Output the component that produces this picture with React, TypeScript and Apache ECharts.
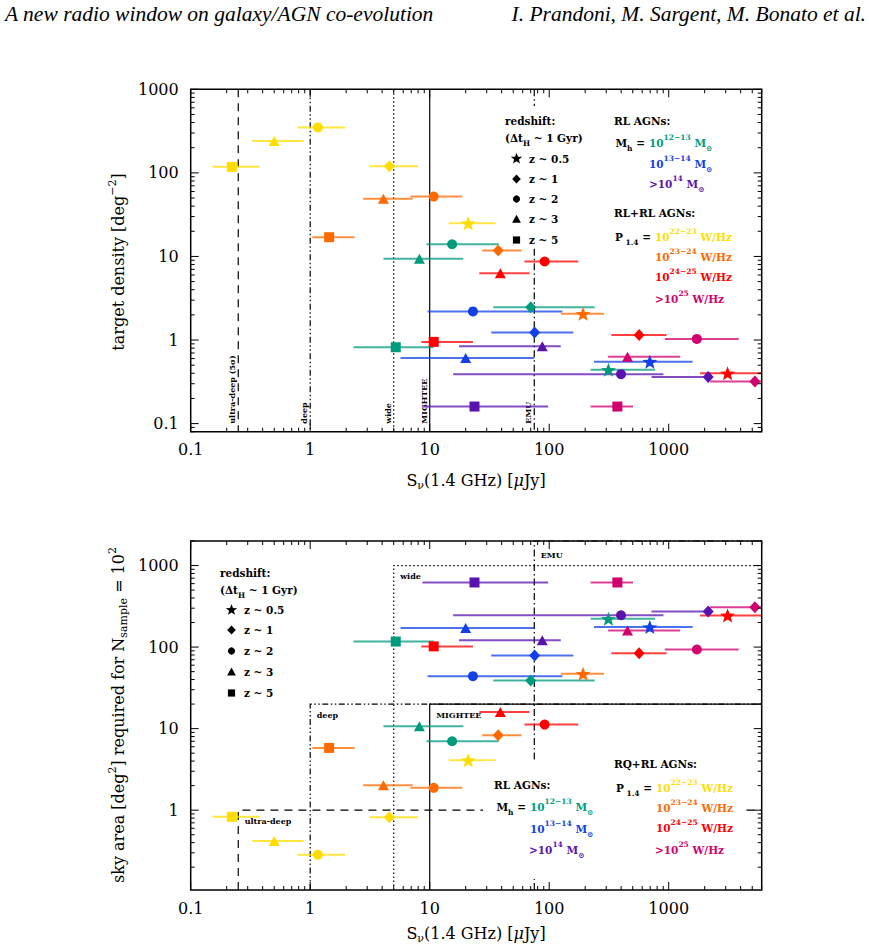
import React, { useEffect, useRef } from "react";
import * as echarts from "echarts";

// ---------------- data ----------------
const populations = [
  "RL AGNs, Mh = 10^12-13 Msun",
  "RL AGNs, Mh = 10^13-14 Msun",
  "RL AGNs, Mh > 10^14 Msun",
  "P1.4 = 10^22-23 W/Hz",
  "P1.4 = 10^23-24 W/Hz",
  "P1.4 = 10^24-25 W/Hz",
  "P1.4 > 10^25 W/Hz",
];
const populationColors = ["#009B7D", "#1240E4", "#5A12AE", "#FFDD00", "#FF6A00", "#FF0000", "#D2006E"];
const redshiftBins = ["z ~ 0.5", "z ~ 1", "z ~ 2", "z ~ 3", "z ~ 5"];

// rows = populations, columns = redshift bins (null = not shown)
const flux = [
  [313, 70, 15.4, 8.2, 5.2],
  [695, 75.5, 23, 20, null],
  [null, 2140, 399, 87.5, 23.7],
  [21, 4.6, 1.16, 0.5, 0.221],
  [192, 37.4, 10.8, 4.1, 1.44],
  [3110, 565, 91.6, 39, 10.8],
  [null, 5260, 1720, 452, 372],
];
const fluxLow = [
  [222, 34, 9.4, 4.1, 2.3],
  [237, 32.7, 9.6, 5.7, null],
  [null, 718, 15.7, 17.6, 8.7],
  [14.4, 3.12, 0.78, 0.328, 0.152],
  [125, 27.5, 6.9, 2.77, 1.04],
  [1830, 331, 62, 26, 8.5],
  [null, 2220, 927, 311, 222],
];
const fluxHigh = [
  [769, 240, 37.8, 19.1, 10.8],
  [1585, 159, 129, 75, null],
  [null, 2290, 903, 125, 98],
  [35.6, 8.0, 1.96, 0.88, 0.376],
  [288, 58.7, 18.7, 7.2, 2.35],
  [7000, 960, 175, 68.5, 23],
  [null, 9000, 3845, 1247, 503],
];
const targetDensity = [
  [0.44, 2.47, 14, 9.4, 0.82],
  [0.55, 1.23, 2.2, 0.61, null],
  [null, 0.36, 0.39, 0.84, 0.16],
  [25, 120, 350, 240, 118],
  [2.06, 11.8, 52, 49, 17],
  [0.4, 1.15, 8.7, 6.3, 0.95],
  [null, 0.32, 1.03, 0.63, 0.16],
];
const skyArea = [
  [222, 39, 7.0, 10.7, 117],
  [176, 79, 44, 171, null],
  [null, 273, 246, 121, 620],
  [4.1, 0.82, 0.284, 0.42, 0.83],
  [47, 8.3, 1.88, 2.02, 5.8],
  [244, 84, 11.2, 16, 102],
  [null, 309, 93.5, 160, 620],
];

const surveyNames = ["ultra-deep (5σ)", "deep", "wide", "MIGHTEE", "EMU"];
const surveyBoxNames = ["ultra-deep", "deep", "wide", "MIGHTEE", "EMU"];
const surveyFluxLimits = [0.25, 1, 5, 10, 75];
const surveySkyAreas = [1, 20, 1000, 20, 30000];

const xTickValues = [0.1, 1, 10, 100, 1000];
const xTickLabels = ["0.1", "1", "10", "100", "1000"];
const yTickValuesTop = [0.1, 1, 10, 100, 1000];
const yTickLabelsTop = ["0.1", "1", "10", "100", "1000"];
const yTickValuesBottom = [1, 10, 100, 1000];
const yTickLabelsBottom = ["1", "10", "100", "1000"];

const X_RANGE = [0.1, 6000];
const Y_RANGE_TOP = [0.08, 1000];
const Y_RANGE_BOTTOM = [0.105, 2000];

// ---------------- styles ----------------
const SERIF = '"DejaVu Serif", "Liberation Serif", serif';
const surveyDash: any[] = [[8, 6], [6, 2.5, 1.5, 2.5, 1.5, 2.5], [1.5, 2.5], null, [7, 3, 1.5, 3]];
const STAR =
  "path://M0,-10L2.469,-3.398L9.511,-3.09L3.994,1.298L5.878,8.09L0,4.2L-5.878,8.09L-3.994,1.298L-9.511,-3.09L-2.469,-3.398Z";
const markerSymbols = [STAR, "diamond", "circle", "triangle", "rect"];
const markerSizes: any[] = [[15, 14], [11, 12], 10, [11, 10], 10];

function tickFormatter(values: number[], labels: string[]) {
  return (v: number) => {
    const i = values.findIndex((t) => Math.abs(Math.log10(v) - Math.log10(t)) < 0.005);
    return i >= 0 ? labels[i] : "";
  };
}

function frameSeries(gi: number, yRange: number[]) {
  return {
    type: "custom",
    name: "frame",
    xAxisIndex: gi,
    yAxisIndex: gi,
    silent: true,
    z: 4,
    data: [[1, 1]],
    renderItem: (params: any, api: any) => {
      const cs = params.coordSys;
      const L = cs.x, T = cs.y, R = cs.x + cs.width, B = cs.y + cs.height;
      const children: any[] = [];
      const ln = (x1: number, y1: number, x2: number, y2: number) => ({
        type: "line",
        shape: { x1, y1, x2, y2 },
        style: { stroke: "#000", lineWidth: 1 },
      });
      for (let k = -2; k <= 4; k++) {
        for (let m = 1; m <= 9; m++) {
          const v = m * Math.pow(10, k);
          const len = m === 1 ? 8 : 4;
          if (v >= X_RANGE[0] * 0.9999 && v <= X_RANGE[1] * 1.0001) {
            const x = api.coord([v, 1])[0];
            children.push(ln(x, B, x, B - len), ln(x, T, x, T + len));
          }
          if (v >= yRange[0] * 0.9999 && v <= yRange[1] * 1.0001) {
            const y = api.coord([1, v])[1];
            children.push(ln(L, y, L + len, y), ln(R, y, R - len, y));
          }
        }
      }
      children.push({
        type: "rect",
        shape: { x: L, y: T, width: cs.width, height: cs.height },
        style: { fill: "none", stroke: "#000", lineWidth: 1.5 },
      });
      return { type: "group", children };
    },
  };
}

function surveyLinesTop() {
  return {
    type: "custom",
    name: "survey flux limits",
    xAxisIndex: 0,
    yAxisIndex: 0,
    silent: true,
    z: 1,
    data: surveyFluxLimits.map((f, i) => [f, 1, i]),
    renderItem: (params: any, api: any) => {
      const cs = params.coordSys;
      const i = api.value(2);
      const x = api.coord([api.value(0), 1])[0];
      const T = cs.y, B = cs.y + cs.height;
      const style: any = { stroke: "#000", lineWidth: 1.2 };
      if (surveyDash[i]) style.lineDash = surveyDash[i];
      return {
        type: "group",
        children: [
          { type: "line", shape: { x1: x, y1: T, x2: x, y2: B }, style },
          {
            type: "text",
            x: x - 6,
            y: B - 8,
            rotation: Math.PI / 2,
            style: {
              text: surveyNames[i],
              fill: "#000",
              fontFamily: SERIF,
              fontSize: 8,
              fontWeight: "bold",
              align: "left",
              verticalAlign: "middle",
            },
          },
        ],
      };
    },
  };
}

function surveyBoxesBottom() {
  return {
    type: "custom",
    name: "survey boxes",
    xAxisIndex: 1,
    yAxisIndex: 1,
    silent: true,
    z: 1,
    data: surveyFluxLimits.map((f, i) => [f, surveySkyAreas[i], i]),
    renderItem: (params: any, api: any) => {
      const cs = params.coordSys;
      const i = api.value(2);
      const x = api.coord([api.value(0), 1])[0];
      const yRaw = api.coord([1, api.value(1)])[1];
      const clipped = yRaw < cs.y;
      const yc = Math.max(yRaw, cs.y);
      const R = cs.x + cs.width, B = cs.y + cs.height;
      const style: any = { stroke: "#000", lineWidth: 1.2, fill: "none" };
      if (surveyDash[i]) style.lineDash = surveyDash[i];
      return {
        type: "group",
        children: [
          { type: "polyline", shape: { points: [[x, B], [x, yc], [R, yc]] }, style },
          {
            type: "text",
            x: x + 6.5,
            y: yc + (clipped ? 14 : 10.5),
            style: {
              text: surveyBoxNames[i],
              fill: "#000",
              fontFamily: SERIF,
              fontSize: 8,
              fontWeight: "bold",
              align: "left",
              verticalAlign: "middle",
            },
          },
        ],
      };
    },
  };
}

function errorBars(gi: number, yValues: (number | null)[][]) {
  const data: number[][] = [];
  populations.forEach((_, p) =>
    flux[p].forEach((f, z) => {
      if (f != null) data.push([f, yValues[p][z] as number, fluxLow[p][z] as number, fluxHigh[p][z] as number, p]);
    })
  );
  return {
    type: "custom",
    name: "flux ranges",
    xAxisIndex: gi,
    yAxisIndex: gi,
    silent: true,
    z: 2,
    data,
    renderItem: (params: any, api: any) => {
      const cs = params.coordSys;
      const y = api.value(1);
      const a = api.coord([api.value(2), y]);
      const b = api.coord([api.value(3), y]);
      const x1 = Math.max(a[0], cs.x);
      const x2 = Math.min(b[0], cs.x + cs.width);
      return {
        type: "line",
        shape: { x1, y1: a[1], x2, y2: a[1] },
        style: { stroke: populationColors[api.value(4)], lineWidth: 2, opacity: 0.75 },
      };
    },
  };
}

function markerSeries(gi: number, yValues: (number | null)[][]) {
  return populations.map((name, p) => ({
    type: "scatter",
    name,
    xAxisIndex: gi,
    yAxisIndex: gi,
    z: 3,
    itemStyle: { color: populationColors[p], opacity: 1 },
    data: flux[p]
      .map((f, z) =>
        f == null
          ? null
          : { name: redshiftBins[z], value: [f, yValues[p][z]], symbol: markerSymbols[z], symbolSize: markerSizes[z] }
      )
      .filter((d) => d !== null),
  }));
}

// ---------------- legends / annotations ----------------
const legendRich: any = {
  b: { fontFamily: SERIF, fontWeight: "bold", fontSize: 10.5, lineHeight: 19 },
  sup: { fontFamily: SERIF, fontWeight: "bold", fontSize: 7.5, lineHeight: 8.5, verticalAlign: "top" },
  sub: { fontFamily: SERIF, fontWeight: "bold", fontSize: 7.5, lineHeight: 8.5, verticalAlign: "bottom" },
};
const axisRich: any = {
  n: { fontFamily: SERIF, fontSize: 16, lineHeight: 22 },
  it: { fontFamily: SERIF, fontSize: 16, lineHeight: 22, fontStyle: "italic" },
  sup: { fontFamily: SERIF, fontSize: 11, lineHeight: 11, verticalAlign: "top" },
  sub: { fontFamily: SERIF, fontSize: 11, lineHeight: 11, verticalAlign: "bottom" },
};

function lt(x: number, y: number, text: string, fill = "#000", align = "left") {
  return {
    type: "text",
    x,
    y,
    z: 101,
    silent: true,
    style: {
      text,
      fill,
      rich: legendRich,
      fontFamily: SERIF,
      fontSize: 10.5,
      fontWeight: "bold",
      align,
      verticalAlign: "middle",
    },
  };
}

function starPoints(cx: number, cy: number, R: number, r: number) {
  const pts: number[][] = [];
  for (let k = 0; k < 10; k++) {
    const ang = -Math.PI / 2 + (k * Math.PI) / 5;
    const rad = k % 2 === 0 ? R : r;
    pts.push([cx + rad * Math.cos(ang), cy + rad * Math.sin(ang)]);
  }
  return pts;
}

function glyph(z: number, cx: number, cy: number) {
  const base = { z: 101, silent: true, style: { fill: "#000" } };
  if (z === 0) return { ...base, type: "polygon", shape: { points: starPoints(cx, cy, 6, 2.5) } };
  if (z === 1)
    return { ...base, type: "polygon", shape: { points: [[cx, cy - 4.6], [cx + 4.3, cy], [cx, cy + 4.6], [cx - 4.3, cy]] } };
  if (z === 2) return { ...base, type: "circle", shape: { cx, cy, r: 3.6 } };
  if (z === 3)
    return { ...base, type: "polygon", shape: { points: [[cx, cy - 4.6], [cx + 4.4, cy + 3.4], [cx - 4.4, cy + 3.4]] } };
  return { ...base, type: "rect", shape: { x: cx - 3.6, y: cy - 3.6, width: 7.2, height: 7.2 } };
}

function redshiftLegend(x: number, y0: number, rowYs: number[]) {
  const els: any[] = [lt(x, y0, "{b|redshift:}"), lt(x, y0 + 17, "{b|(Δt}{sub|H}{b| ~ 1 Gyr)}")];
  redshiftBins.forEach((label, z) => {
    els.push(glyph(z, x + 11.5, rowYs[z]));
    els.push(lt(x + 24, rowYs[z], `{b|${label}}`));
  });
  return els;
}

const massLabels = [
  "{b|10}{sup|12−13}{b| M}{sub|⊙}",
  "{b|10}{sup|13−14}{b| M}{sub|⊙}",
  "{b|>10}{sup|14}{b| M}{sub|⊙}",
];
const powerLabels = [
  "{b|10}{sup|22−23}{b| W/Hz}",
  "{b|10}{sup|23−24}{b| W/Hz}",
  "{b|10}{sup|24−25}{b| W/Hz}",
  "{b|>10}{sup|25}{b| W/Hz}",
];

function buildOption() {
  const grids = [
    { left: 190.7, top: 89.3, width: 571, height: 342.4 },
    { left: 190.7, top: 541, width: 571, height: 349 },
  ];
  const labelStyle = { color: "#000", fontFamily: SERIF, fontSize: 16, showMinLabel: true, showMaxLabel: true };
  const xAxis = [0, 1].map((gi) => ({
    type: "log",
    logBase: 10,
    gridIndex: gi,
    min: X_RANGE[0],
    max: X_RANGE[1],
    axisLine: { show: false },
    axisTick: { show: false },
    splitLine: { show: false },
    axisLabel: { ...labelStyle, margin: 10, formatter: tickFormatter(xTickValues, xTickLabels) },
  }));
  const yAxis = [
    {
      type: "log",
      logBase: 10,
      gridIndex: 0,
      min: Y_RANGE_TOP[0],
      max: Y_RANGE_TOP[1],
      axisLine: { show: false },
      axisTick: { show: false },
      splitLine: { show: false },
      axisLabel: { ...labelStyle, margin: 12, formatter: tickFormatter(yTickValuesTop, yTickLabelsTop) },
    },
    {
      type: "log",
      logBase: 10,
      gridIndex: 1,
      min: Y_RANGE_BOTTOM[0],
      max: Y_RANGE_BOTTOM[1],
      axisLine: { show: false },
      axisTick: { show: false },
      splitLine: { show: false },
      axisLabel: { ...labelStyle, margin: 12, formatter: tickFormatter(yTickValuesBottom, yTickLabelsBottom) },
    },
  ];

  const series: any[] = [
    surveyLinesTop(),
    surveyBoxesBottom(),
    errorBars(0, targetDensity),
    errorBars(1, skyArea),
    ...markerSeries(0, targetDensity),
    ...markerSeries(1, skyArea),
    frameSeries(0, Y_RANGE_TOP),
    frameSeries(1, Y_RANGE_BOTTOM),
  ];

  const graphic: any[] = [
    // header
    {
      type: "text",
      x: 5,
      y: 14,
      silent: true,
      style: {
        text: "A new radio window on galaxy/AGN co-evolution",
        fill: "#000",
        fontFamily: '"Liberation Serif", serif',
        fontStyle: "italic",
        fontSize: 21.5,
        verticalAlign: "middle",
        align: "left",
      },
    },
    {
      type: "text",
      x: 866,
      y: 14,
      silent: true,
      style: {
        text: "I. Prandoni, M. Sargent, M. Bonato et al.",
        fill: "#000",
        fontFamily: '"Liberation Serif", serif',
        fontStyle: "italic",
        fontSize: 21.5,
        verticalAlign: "middle",
        align: "right",
      },
    },
    // white legend backgrounds
    { type: "rect", z: 100, silent: true, shape: { x: 503, y: 106, width: 78, height: 141 }, style: { fill: "#fff" } },
    { type: "rect", z: 100, silent: true, shape: { x: 483, y: 761, width: 261, height: 118 }, style: { fill: "#fff" } },
    // axis titles
    ...[480, 933].map((y) => ({
      type: "text",
      x: 476,
      y,
      silent: true,
      style: { text: "{n|S}{sub|ν}{n|(1.4 GHz) [}{it|μ}{n|Jy]}", rich: axisRich, align: "center", verticalAlign: "middle", fill: "#000" },
    })),
    {
      type: "text",
      x: 118,
      y: 262,
      rotation: Math.PI / 2,
      silent: true,
      style: { text: "{n|target density [deg}{sup|−2}{n|]}", rich: axisRich, align: "center", verticalAlign: "middle", fill: "#000" },
    },
    {
      type: "text",
      x: 118,
      y: 715,
      rotation: Math.PI / 2,
      silent: true,
      style: {
        text: "{n|sky area [deg}{sup|2}{n|] required for N}{sub|sample}{n| = 10}{sup|2}",
        rich: axisRich,
        align: "center",
        verticalAlign: "middle",
        fill: "#000",
      },
    },
    // top legends
    ...redshiftLegend(505, 121, [158.7, 179, 199, 219.3, 240]),
    lt(614, 121, "{b|RL AGNs:}"),
    lt(645, 143, "{b|M}{sub|h}{b| =}", "#000", "right"),
    lt(649, 143, massLabels[0], populationColors[0]),
    lt(649, 164, massLabels[1], populationColors[1]),
    lt(649, 184, massLabels[2], populationColors[2]),
    lt(614, 213, "{b|RL+RL AGNs:}"),
    lt(651, 237, "{b|P}{sub| 1.4}{b| =}", "#000", "right"),
    lt(655, 237, powerLabels[0], populationColors[3]),
    lt(655, 257, powerLabels[1], populationColors[4]),
    lt(655, 277, powerLabels[2], populationColors[5]),
    lt(655, 299, powerLabels[3], populationColors[6]),
    // bottom legends
    ...redshiftLegend(220, 573, [610, 630, 651, 672, 693]),
    lt(494, 785, "{b|RL AGNs:}"),
    lt(526, 807, "{b|M}{sub|h}{b| =}", "#000", "right"),
    lt(530, 807, massLabels[0], populationColors[0]),
    lt(530, 829, massLabels[1], populationColors[1]),
    lt(529, 850, massLabels[2], populationColors[2]),
    lt(614, 764, "{b|RQ+RL AGNs:}"),
    lt(652, 788, "{b|P}{sub| 1.4}{b| =}", "#000", "right"),
    lt(656, 788, powerLabels[0], populationColors[3]),
    lt(656, 808, powerLabels[1], populationColors[4]),
    lt(656, 828, powerLabels[2], populationColors[5]),
    lt(655, 850, powerLabels[3], populationColors[6]),
  ];

  return {
    animation: false,
    backgroundColor: "#fff",
    grid: grids,
    xAxis,
    yAxis,
    series,
    graphic,
  };
}

export default function App() {
  const ref = useRef<HTMLDivElement>(null);
  useEffect(() => {
    if (!ref.current) return;
    const chart = echarts.init(ref.current, null, { renderer: "svg" });
    chart.setOption(buildOption() as any);
    return () => chart.dispose();
  }, []);
  return (
    <div
      ref={ref}
      style={{ position: "absolute", left: 0, top: 0, width: 869, height: 948, background: "#fff" }}
    />
  );
}
